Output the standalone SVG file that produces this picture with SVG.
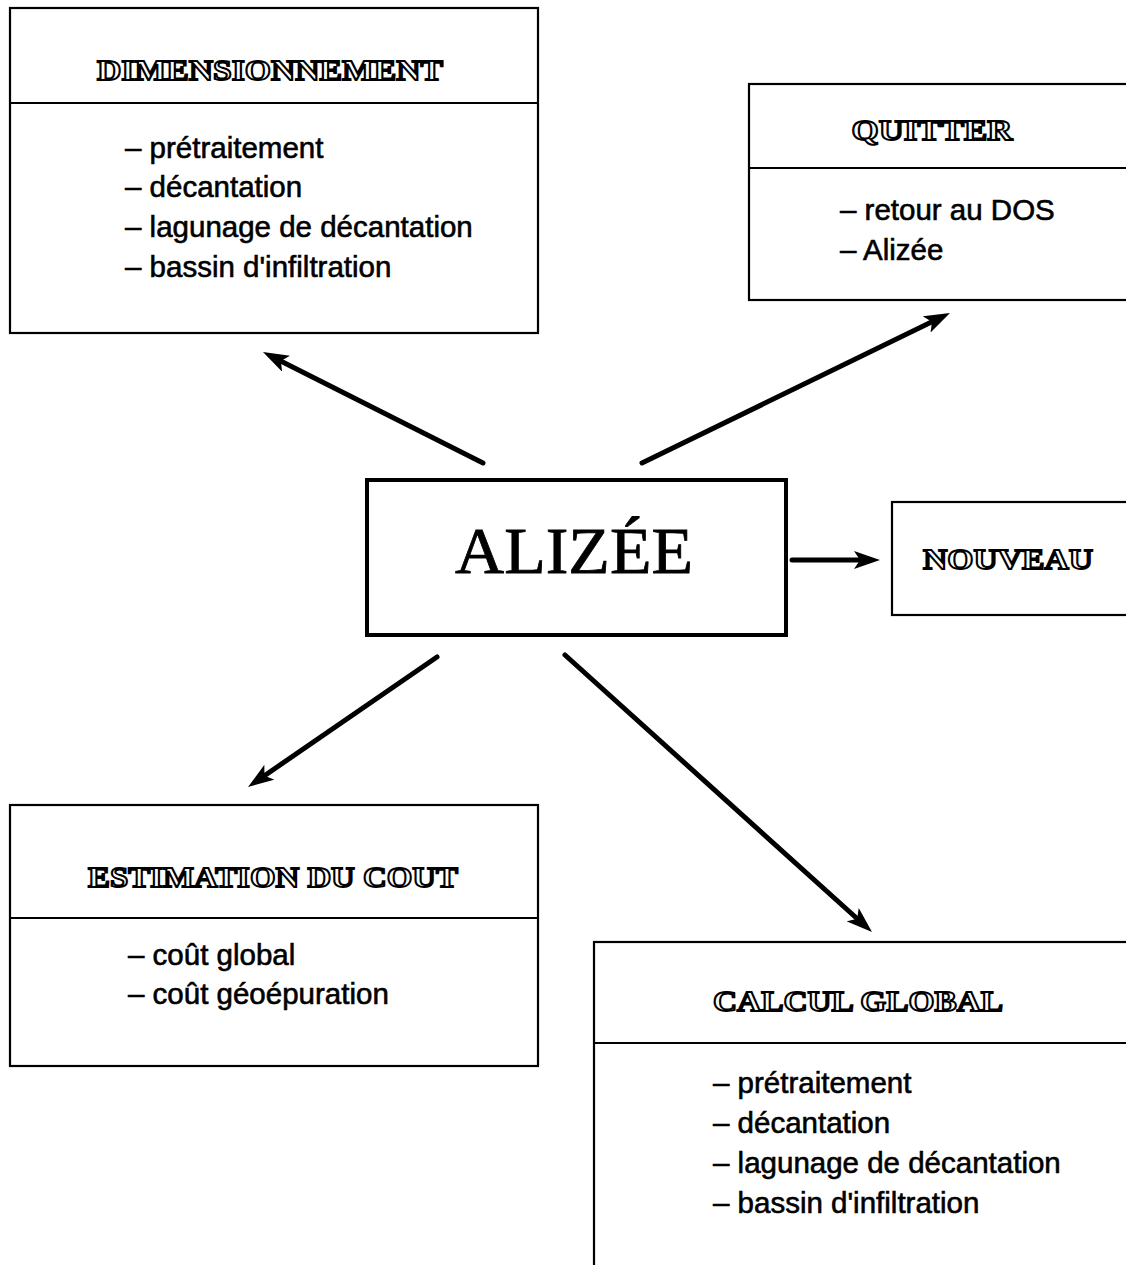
<svg xmlns="http://www.w3.org/2000/svg" width="1126" height="1265" viewBox="0 0 1126 1265">
  <style>
    .box { fill: #fff; stroke: #000; stroke-width: 2.2; }
    .main { fill: #fff; stroke: #000; stroke-width: 4; }
    .rule { stroke: #000; stroke-width: 2; }
    .head { font-family: "Liberation Serif", "DejaVu Serif", serif; font-weight: bold; font-size: 30px; fill: #fff; stroke: #000; stroke-width: 1.9; text-anchor: middle; }
    .item { font-family: "Liberation Sans", Arial, sans-serif; font-size: 29.5px; fill: #000; stroke: #000; stroke-width: 0.6; }
    .title { font-family: "Liberation Serif", "DejaVu Serif", serif; font-size: 66px; fill: #000; stroke: #000; stroke-width: 0.8; text-anchor: middle; }
    .link { fill: none; stroke: #000; stroke-width: 5; stroke-linecap: round; marker-end: url(#head); }
  </style>
  <defs>
    <marker id="head" markerUnits="userSpaceOnUse" viewBox="0 0 26 18" refX="14" refY="9" markerWidth="26" markerHeight="18" orient="auto">
      <path d="M0,0 L26,9 L0,18 L6,9 z" fill="#000"/>
    </marker>
  </defs>

  <rect width="1126" height="1265" fill="#fff"/>

  <!-- connectors from the central ALIZÉE box -->
  <g id="connectors">
    <line class="link" x1="483" y1="463" x2="273.7" y2="357.4"/>
    <line class="link" x1="642" y1="463" x2="939.2" y2="318.3"/>
    <line class="link" x1="792" y1="560" x2="868" y2="560"/>
    <line class="link" x1="437" y1="657" x2="257.9" y2="780.2"/>
    <line class="link" x1="565" y1="655" x2="863.1" y2="924"/>
  </g>

  <g id="dimensionnement">
    <rect class="box" x="10" y="8" width="528" height="325"/>
    <line class="rule" x1="10" y1="103" x2="538" y2="103"/>
    <text class="head" x="270" y="80" textLength="346" lengthAdjust="spacingAndGlyphs">DIMENSIONNEMENT</text>
    <text class="item" x="125" y="158">– prétraitement</text>
    <text class="item" x="125" y="197">– décantation</text>
    <text class="item" x="125" y="237">– lagunage de décantation</text>
    <text class="item" x="125" y="277">– bassin d'infiltration</text>
  </g>

  <g id="quitter">
    <rect class="box" x="749" y="84" width="400" height="216"/>
    <line class="rule" x1="749" y1="168" x2="1126" y2="168"/>
    <text class="head" x="932" y="140" textLength="161" lengthAdjust="spacingAndGlyphs">QUITTER</text>
    <text class="item" x="840" y="220">– retour au DOS</text>
    <text class="item" x="840" y="260">– Alizée</text>
  </g>

  <g id="alizee">
    <rect class="main" x="367" y="480" width="419" height="155"/>
    <text class="title" x="574" y="573" textLength="238" lengthAdjust="spacingAndGlyphs">ALIZÉE</text>
  </g>

  <g id="nouveau">
    <rect class="box" x="892" y="502" width="260" height="113"/>
    <text class="head" x="1008" y="569" textLength="170" lengthAdjust="spacingAndGlyphs">NOUVEAU</text>
  </g>

  <g id="estimation">
    <rect class="box" x="10" y="805" width="528" height="261"/>
    <line class="rule" x1="10" y1="918" x2="538" y2="918"/>
    <text class="head" x="273" y="887" textLength="370" lengthAdjust="spacingAndGlyphs">ESTIMATION DU COUT</text>
    <text class="item" x="128" y="965">– coût global</text>
    <text class="item" x="128" y="1004">– coût géoépuration</text>
  </g>

  <g id="calcul">
    <rect class="box" x="594" y="942" width="560" height="360"/>
    <line class="rule" x1="594" y1="1043" x2="1126" y2="1043"/>
    <text class="head" x="858" y="1011" textLength="290" lengthAdjust="spacingAndGlyphs">CALCUL GLOBAL</text>
    <text class="item" x="713" y="1093">– prétraitement</text>
    <text class="item" x="713" y="1133">– décantation</text>
    <text class="item" x="713" y="1173">– lagunage de décantation</text>
    <text class="item" x="713" y="1213">– bassin d'infiltration</text>
  </g>
</svg>
